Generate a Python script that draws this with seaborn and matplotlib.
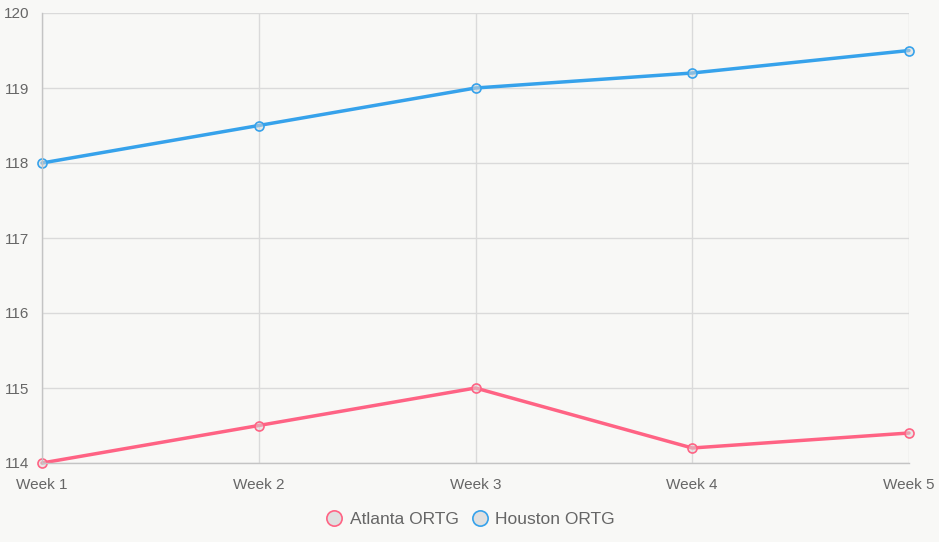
import matplotlib
matplotlib.use("Agg")
import matplotlib.pyplot as plt
import pandas as pd
import seaborn as sns
from matplotlib.lines import Line2D

weeks = ["Week 1", "Week 2", "Week 3", "Week 4", "Week 5"]
atlanta = [114, 114.5, 115, 114.2, 114.4]
houston = [118, 118.5, 119, 119.2, 119.5]
series = ["Atlanta ORTG", "Houston ORTG"]
colors = ["#ff6384", "#36a2eb"]

BG = "#f8f8f6"
GRID = "#dadada"


def main():
    df = pd.DataFrame({
        "week": weeks * 2,
        "value": atlanta + houston,
        "team": [series[0]] * len(weeks) + [series[1]] * len(weeks),
    })

    sns.set_style("white")
    plt.rcParams["font.family"] = ["Liberation Sans", "DejaVu Sans"]

    fig = plt.figure(figsize=(9.39, 5.42), dpi=100, facecolor=BG)
    ax = fig.add_axes([42 / 939, 1 - 463 / 542, 867 / 939, 450 / 542])
    ax.set_facecolor(BG)

    sns.lineplot(
        data=df, x="week", y="value", hue="team", palette=colors,
        linewidth=2.5, marker="o", markersize=6.5, markeredgewidth=1.2,
        markerfacecolor=(0.85, 0.85, 0.85, 0.5), legend=False, ax=ax,
        sort=False,
    )
    for line, c in zip(ax.lines, colors):
        line.set_markeredgecolor(c)
        line.set_clip_on(False)

    ax.set_xlim(0, len(weeks) - 1)
    ax.set_ylim(114, 120)
    ax.set_yticks(range(114, 121))
    ax.set_xlabel("")
    ax.set_ylabel("")
    ax.grid(True, color=GRID, linewidth=1)
    ax.set_axisbelow(True)
    for side in ["top", "right"]:
        ax.spines[side].set_visible(False)
    for side in ["left", "bottom"]:
        ax.spines[side].set_color("#c4c4c4")
        ax.spines[side].set_linewidth(1)
    ax.tick_params(axis="both", length=6, color=GRID, labelcolor="#666666",
                   labelsize=11)
    ax.tick_params(axis="y", pad=3)
    ax.tick_params(axis="x", pad=5)

    handles = [
        Line2D([], [], linestyle="none", marker="o", markersize=11,
               markerfacecolor="#e0e0e0", markeredgecolor=c, markeredgewidth=1.2)
        for c in colors
    ]
    fig.legend(handles, series, loc="center", bbox_to_anchor=(0.5, 1 - 519 / 542),
               ncol=2, frameon=False, fontsize=12.5, labelcolor="#666666",
               handletextpad=0.3, columnspacing=0.6, handlelength=1.2)

    fig.savefig("out.png", dpi=100, facecolor=BG)


if __name__ == "__main__":
    main()
